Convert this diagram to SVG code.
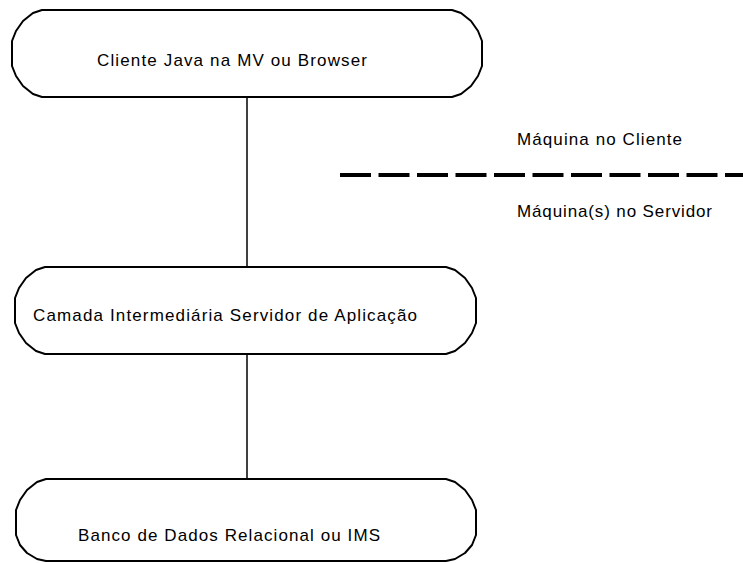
<svg xmlns="http://www.w3.org/2000/svg" width="743" height="563" viewBox="0 0 743 563">
  <style>
    .box { fill: #ffffff; stroke: #000000; stroke-width: 2; stroke-linejoin: round; }
    .link { stroke: #000000; stroke-width: 1.5; fill: none; }
    .divider { stroke: #000000; stroke-width: 4; stroke-dasharray: 31 7.5; fill: none; }
    text { font-family: "Liberation Sans", Arial, Helvetica, sans-serif; font-size: 17px; fill: #000000; }
  </style>
  <rect width="743" height="563" fill="#ffffff"/>

  <!-- connectors between the tiers -->
  <g id="connectors">
    <line class="link" x1="247" y1="97" x2="247" y2="267"/>
    <line class="link" x1="247" y1="354" x2="247" y2="479"/>
  </g>

  <!-- client / server boundary -->
  <g id="boundary">
    <line class="divider" x1="340" y1="175" x2="743" y2="175"/>
    <text x="517" y="145" textLength="165" lengthAdjust="spacing">Máquina no Cliente</text>
    <text x="517" y="217" textLength="195" lengthAdjust="spacing">Máquina(s) no Servidor</text>
  </g>

  <g id="client">
    <path class="box" d="M42,10 H452 L461,13 L471,21 L478,31 L482,41 V66 L478,76 L471,86 L461,94 L452,97 H42 L33,94 L23,86 L16,76 L12,66 V41 L16,31 L23,21 L33,13 Z"/>
    <text x="97" y="66" textLength="270" lengthAdjust="spacing">Cliente Java na MV ou Browser</text>
  </g>

  <g id="middle-tier">
    <path class="box" d="M45,267 H446 L455,270 L465,278 L472,288 L476,298 V323 L472,333 L465,343 L455,351 L446,354 H45 L36,351 L26,343 L19,333 L15,323 V298 L19,288 L26,278 L36,270 Z"/>
    <text x="33" y="321" textLength="384" lengthAdjust="spacing">Camada Intermediária Servidor de Aplicação</text>
  </g>

  <g id="database">
    <path class="box" d="M46,479 H446 L455,482 L465,490 L472,500 L476,510 V535 L472,545 L465,553 L455,559 L446,561 H46 L37,559 L27,553 L20,545 L16,535 V510 L20,500 L27,490 L37,482 Z"/>
    <text x="78" y="541" textLength="302" lengthAdjust="spacing">Banco de Dados Relacional ou IMS</text>
  </g>
</svg>
